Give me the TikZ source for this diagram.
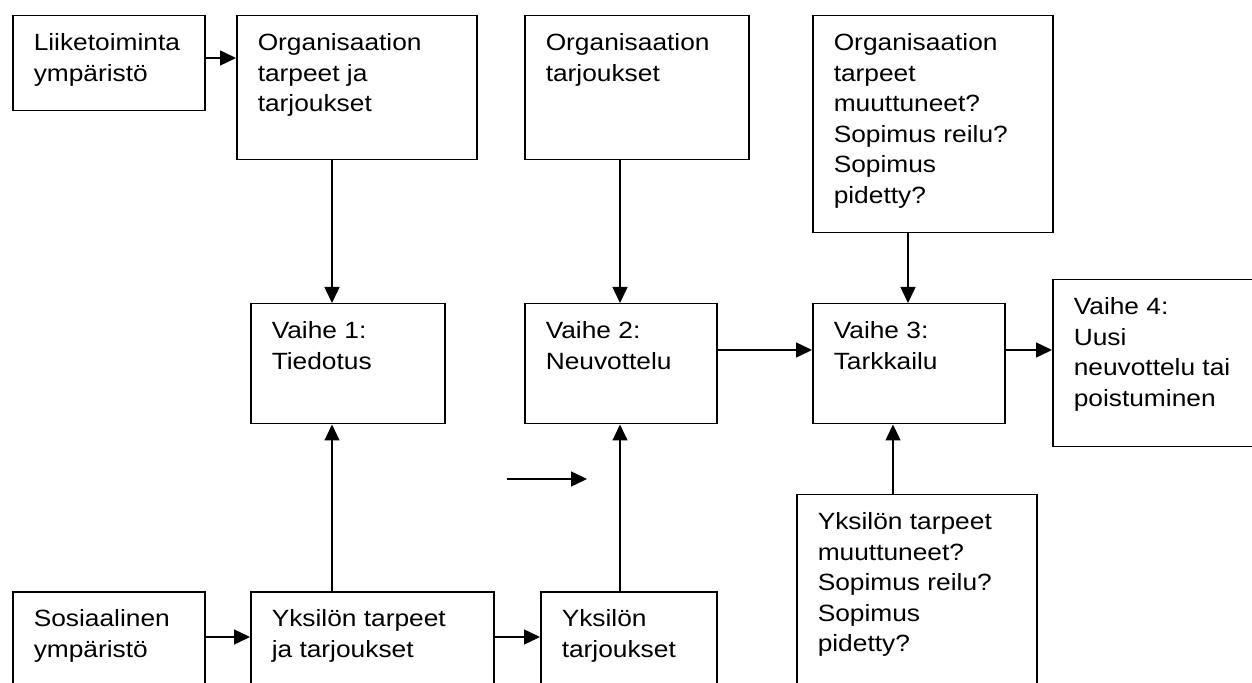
\documentclass[tikz,border=0pt]{standalone}
\usepackage{fontspec}
\setmainfont{Liberation Sans}[FakeStretch=1.12]
\usetikzlibrary{arrows.meta}

% teksti laatikon yläreunaan: leveys, korkeus, teksti
\newcommand{\laatikko}[3]{\parbox[t][#2][t]{#1}{\rule{0pt}{17.5pt}#3}}

\begin{document}
\begin{tikzpicture}[x=0.5pt, y=-0.5pt, >={Triangle[length=8pt, width=7.5pt]}, line width=0.75pt,
  box/.style={draw, anchor=north west, inner xsep=10.5pt, inner ysep=0pt,
    font=\fontsize{11.75pt}{15.25pt}\selectfont}]
\useasboundingbox (0,0) rectangle (1252,683);
\clip (0,0) rectangle (1252,683);

% Ylärivi
\node[box] (liike) at (12,15) {\laatikko{75pt}{47.5pt}{Liiketoiminta\\ympäristö}};
\node[box] (orgtarve) at (236,15) {\laatikko{99pt}{72pt}{Organisaation\\tarpeet ja\\tarjoukset}};
\node[box] (orgtarjous) at (524,15) {\laatikko{91pt}{72pt}{Organisaation\\tarjoukset}};
\node[box] (orgseuranta) at (812,15) {\laatikko{99pt}{108.5pt}{Organisaation\\tarpeet\\muuttuneet?\\Sopimus reilu?\\Sopimus\\pidetty?}};

% Vaiheet
\node[box] (vaihe1) at (250,303) {\laatikko{76pt}{60pt}{Vaihe 1:\\Tiedotus}};
\node[box] (vaihe2) at (524,303) {\laatikko{75pt}{60pt}{Vaihe 2:\\Neuvottelu}};
\node[box] (vaihe3) at (812,303) {\laatikko{75pt}{60pt}{Vaihe 3:\\Tarkkailu}};
\node[box] (vaihe4) at (1052,279) {\laatikko{89pt}{83.5pt}{Vaihe 4:\\Uusi\\neuvottelu tai\\poistuminen}};

% Alarivi
\node[box] (sosiaal) at (12,591) {\laatikko{75pt}{60pt}{Sosiaalinen\\ympäristö}};
\node[box] (yksitarve) at (250,591) {\laatikko{100.5pt}{60pt}{Yksilön tarpeet\\ja tarjoukset}};
\node[box] (yksitarjous) at (540,591) {\laatikko{67pt}{60pt}{Yksilön\\tarjoukset}};
\node[box] (yksiseuranta) at (796,494) {\laatikko{99pt}{108pt}{Yksilön tarpeet\\muuttuneet?\\Sopimus reilu?\\Sopimus\\pidetty?}};

% Nuolet
\coordinate (k1) at (332,0);
\coordinate (k2) at (620,0);
\coordinate (k3) at (908,0);
\coordinate (k4) at (893,0);
\coordinate (r0) at (0,58);
\coordinate (r1) at (0,350);
\coordinate (r2) at (0,637);
\draw[->] (liike.east |- r0) -- (orgtarve.west |- r0);
\draw[->] (k1 |- orgtarve.south) -- (k1 |- vaihe1.north);
\draw[->] (k2 |- orgtarjous.south) -- (k2 |- vaihe2.north);
\draw[->] (k3 |- orgseuranta.south) -- (k3 |- vaihe3.north);
\draw[->] (vaihe2.east |- r1) -- (vaihe3.west |- r1);
\draw[->] (vaihe3.east |- r1) -- (vaihe4.west |- r1);
\draw[->] (k1 |- yksitarve.north) -- (k1 |- vaihe1.south);
\draw[->] (k2 |- yksitarjous.north) -- (k2 |- vaihe2.south);
\draw[->] (k4 |- yksiseuranta.north) -- (k4 |- vaihe3.south);
\draw[->] (sosiaal.east |- r2) -- (yksitarve.west |- r2);
\draw[->] (yksitarve.east |- r2) -- (yksitarjous.west |- r2);

% Irrallinen nuoli
\coordinate (irto1) at (507,479);
\coordinate (irto2) at (587,479);
\draw[->] (irto1) -- (irto2);

\end{tikzpicture}
\end{document}
